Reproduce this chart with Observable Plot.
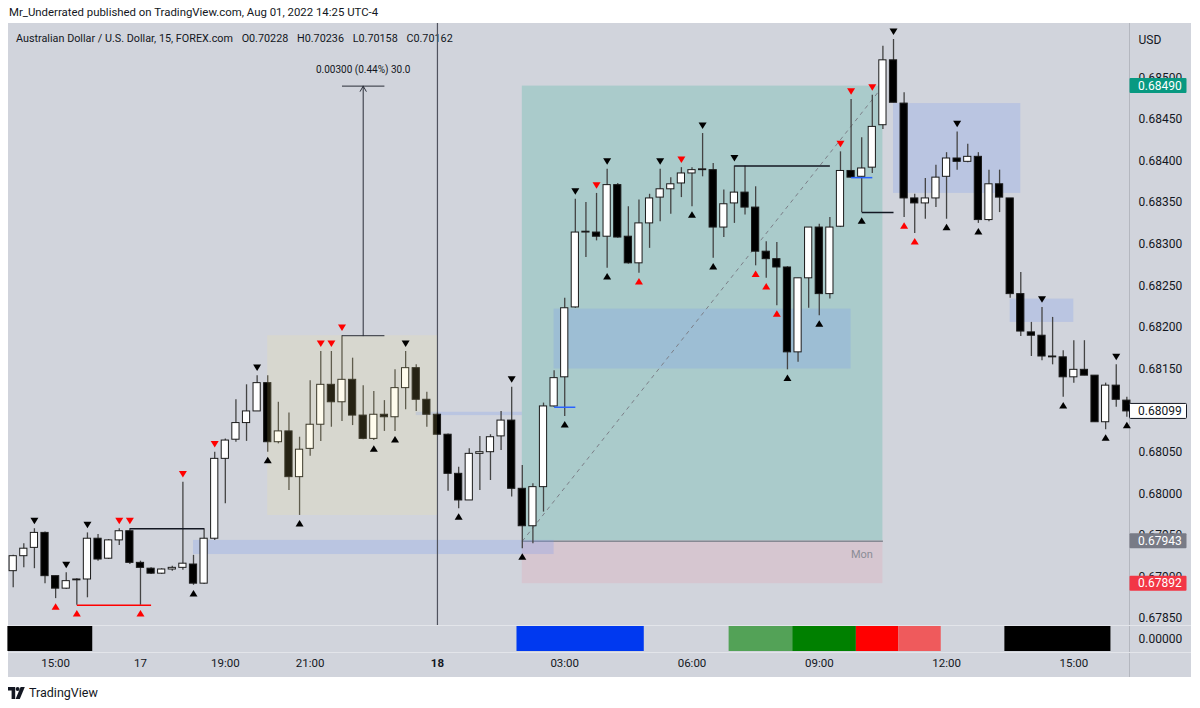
<!DOCTYPE html>
<html><head><meta charset="utf-8">
<script src="https://cdn.jsdelivr.net/npm/d3@7"></script>
<script src="https://cdn.jsdelivr.net/npm/@observablehq/plot@0.6"></script>
<style>
html,body{margin:0;padding:0}
body{background:#fff;width:1200px;height:708px;position:relative;overflow:hidden;font-family:Roboto,"Noto Sans",sans-serif;color:#131722}
.abs{position:absolute}
#bg{left:8px;top:23px;width:1183px;height:654px;background:#d1d4dc}
#pub{left:9px;top:5px;font-size:11.4px;white-space:nowrap}
#title{left:16px;top:32px;font-size:10.8px;white-space:nowrap}
#title span{margin-left:6px}
#sepR{left:1129px;top:23px;width:1px;height:654px;background:#b4b7bf}
#sepA{left:8px;top:625px;width:1183px;height:1px;background:#e3e5ea}
#sepB{left:8px;top:652px;width:1183px;height:1px;background:#e3e5ea}
#logo{left:8px;top:685px;font-size:12.5px;display:flex;align-items:center;gap:4px}
svg.plot{overflow:visible}
</style></head><body>
<div id="bg" class="abs"></div>
<div id="pub" class="abs">Mr_Underrated published on TradingView.com, Aug 01, 2022 14:25 UTC-4</div>
<div id="title" class="abs">Australian Dollar / U.S. Dollar, 15, FOREX.com <span>O0.70228</span> <span>H0.70236</span> <span>L0.70158</span> <span>C0.70162</span></div>
<div id="sepR" class="abs"></div>
<div id="sepA" class="abs"></div>
<div id="sepB" class="abs"></div>
<div id="main" class="abs" style="left:0;top:23px"></div>
<div id="lower" class="abs" style="left:0;top:625px"></div>
<div id="logo" class="abs"><svg width="17" height="12" viewBox="0 0 17 12"><path d="M0 0h7.2v12h-3.6v-8.4h-3.6z" fill="#131722"/><circle cx="9.6" cy="2" r="2" fill="#131722"/><path d="M12.6 0h4.2l-5 12h-4.2z" fill="#131722"/></svg><span>TradingView</span></div>
<script>
// ---- candle data (AUD/USD, 15 min), bar 1 = Fri 14:00 ... bar 106 = Mon 16:15
const opens = [0.67907,0.67925,0.67935,0.67953,0.67901,0.67886,0.67896,0.67897,0.67946,0.67922,
0.67944,0.67955,0.67917,0.67910,0.67904,0.67909,0.67911,0.67915,0.67892,0.67946,
0.68042,0.68065,0.68085,0.68099,0.68133,0.68062,0.68075,0.68020,0.68054,0.68083,
0.68131,0.68110,0.68137,0.68094,0.68066,0.68095,0.68092,0.68127,0.68151,0.68113,
0.68095,0.68071,0.68024,0.67992,0.68048,0.68050,0.68069,0.68088,0.68006,0.67961,
0.68008,0.68105,0.68140,0.68224,0.68314,0.68314,0.68309,0.68371,0.68309,0.68277,
0.68325,0.68356,0.68366,0.68373,0.68385,0.68389,0.68389,0.68320,0.68349,0.68362,
0.68344,0.68291,0.68282,0.68272,0.68170,0.68259,0.68320,0.68240,0.68321,0.68388,
0.68381,0.68392,0.68443,0.68521,0.68469,0.68355,0.68349,0.68355,0.68381,0.68403,
0.68399,0.68405,0.68329,0.68372,0.68355,0.68240,0.68194,0.68190,0.68165,0.68164,
0.68140,0.68149,0.68142,0.68086,0.68130,0.68112];
const highs = [0.67926,0.67940,0.67958,0.67954,0.67901,0.67905,0.67898,0.67953,0.67951,0.67945,
0.67958,0.67958,0.67919,0.67911,0.67910,0.67913,0.68014,0.67926,0.67958,0.68050,
0.68066,0.68113,0.68131,0.68142,0.68142,0.68110,0.68097,0.68068,0.68136,0.68171,
0.68171,0.68190,0.68163,0.68130,0.68123,0.68112,0.68149,0.68171,0.68155,0.68122,
0.68097,0.68072,0.68032,0.68054,0.68069,0.68071,0.68099,0.68128,0.68034,0.68012,
0.68109,0.68148,0.68235,0.68354,0.68350,0.68361,0.68390,0.68373,0.68345,0.68353,
0.68360,0.68390,0.68380,0.68392,0.68392,0.68433,0.68397,0.68365,0.68394,0.68394,
0.68369,0.68303,0.68302,0.68273,0.68259,0.68320,0.68324,0.68332,0.68411,0.68474,
0.68428,0.68479,0.68538,0.68546,0.68482,0.68360,0.68379,0.68395,0.68410,0.68435,
0.68420,0.68410,0.68389,0.68389,0.68355,0.68266,0.68206,0.68224,0.68212,0.68172,
0.68184,0.68184,0.68142,0.68133,0.68155,0.68116];
const lows = [0.67887,0.67911,0.67910,0.67892,0.67874,0.67885,0.67866,0.67875,0.67919,0.67921,
0.67938,0.67915,0.67866,0.67903,0.67903,0.67907,0.67908,0.67890,0.67891,0.67944,
0.67988,0.68062,0.68063,0.68099,0.68050,0.68060,0.68004,0.67974,0.68045,0.68063,
0.68080,0.68087,0.68082,0.68065,0.68064,0.68075,0.68075,0.68101,0.68099,0.68080,
0.68070,0.68003,0.67982,0.67992,0.68004,0.68016,0.68052,0.67996,0.67934,0.67940,
0.67978,0.68104,0.68093,0.68223,0.68284,0.68304,0.68271,0.68307,0.68276,0.68265,
0.68295,0.68327,0.68336,0.68356,0.68345,0.68381,0.68283,0.68308,0.68325,0.68335,
0.68274,0.68259,0.68226,0.68149,0.68158,0.68223,0.68214,0.68234,0.68320,0.68380,
0.68338,0.68385,0.68438,0.68470,0.68332,0.68313,0.68330,0.68344,0.68330,0.68389,
0.68398,0.68325,0.68327,0.68338,0.68235,0.68189,0.68165,0.68160,0.68155,0.68116,
0.68133,0.68142,0.68086,0.68077,0.68104,0.68092];
const closes = [0.67925,0.67934,0.67953,0.67901,0.67886,0.67895,0.67897,0.67946,0.67921,0.67944,
0.67955,0.67917,0.67911,0.67904,0.67909,0.67911,0.67916,0.67892,0.67946,0.68042,
0.68064,0.68085,0.68099,0.68133,0.68062,0.68075,0.68020,0.68053,0.68083,0.68131,
0.68110,0.68137,0.68094,0.68066,0.68095,0.68092,0.68127,0.68151,0.68113,0.68095,
0.68071,0.68024,0.67992,0.68048,0.68050,0.68068,0.68088,0.68006,0.67961,0.68008,
0.68105,0.68139,0.68223,0.68314,0.68315,0.68309,0.68371,0.68308,0.68277,0.68325,
0.68355,0.68366,0.68372,0.68385,0.68389,0.68390,0.68320,0.68348,0.68362,0.68344,
0.68291,0.68282,0.68272,0.68170,0.68259,0.68320,0.68240,0.68320,0.68388,0.68380,
0.68391,0.68441,0.68521,0.68470,0.68355,0.68349,0.68355,0.68380,0.68403,0.68399,
0.68405,0.68329,0.68372,0.68356,0.68240,0.68195,0.68190,0.68165,0.68164,0.68140,
0.68149,0.68142,0.68086,0.68130,0.68113,0.68099];

// ---- pivot markers (bar numbers)
const blackDown = [3,6,8,24,38,48,54,57,62,66,69,84,90,98,105];
const blackUp = [18,25,28,35,37,43,49,53,57,65,67,74,77,81,89,92,100,104,106];
const redDown = [11,12,17,20,30,31,32,56,64,79,80,82];
const redUp = [5,7,13,60,71,72,73,85,86];

// ---- time axis
const timeTickBars = [5,13,21,29,41,53,65,77,89,101];
const timeTickLabels = ["15:00","17","19:00","21:00","18","03:00","06:00","09:00","12:00","15:00"];
const timeTickBold = [false,false,false,false,true,false,false,false,false,false];

// ---- price axis
const priceTicks = [0.6785,0.6790,0.6795,0.6800,0.6805,0.6810,0.6815,0.6820,0.6825,0.6830,0.6835,0.6840,0.6845,0.6850];
const badgePrices = [0.68490,0.68099,0.67943,0.67892];
const badgeFills = ["#089981","#ffffff","#787b86","#f23645"];
const badgeText = ["#ffffff","#131722","#ffffff","#ffffff"];
const badgeBorder = ["none","#131722","none","none"];

// ---- long position tool
const posFrom = 49, posTo = 83;
const posEntry = 0.67943, posTarget = 0.68490, posStop = 0.67892;

// ---- range box (overlay)
const rangeFrom = 25, rangeTo = 41, rangeLow = 0.67974, rangeHigh = 0.68190;

// ---- blue zones
const zoneFrom = [18,39,52,84,95];
const zoneTo   = [52,49,80,96,101];
const zoneLow  = [0.67927,0.68094,0.68150,0.68361,0.68206];
const zoneHigh = [0.67944,0.68098,0.68222,0.68469,0.68234];

// ---- level lines
const lineFrom  = [7,12,69,81,52,80];
const lineTo    = [14,19,78,84,54,82];
const linePrice = [0.67866,0.67958,0.68394,0.68338,0.68104,0.68380];
const lineColor = ["#ff0000","#131722","#131722","#131722","#2962ff","#2962ff"];

// ---- measure tool
const measureFrom = 32, measureTo = 36, measureAt = 34;
const measureLow = 0.68190, measureHigh = 0.68490;
const measureLabel = "0.00300 (0.44%) 30.0";

// ---- day separator
const dayBreak = [41];

// ---- session pane
const sessionFrom  = [1,49,69,75,81,85,95];
const sessionTo    = [8,60,74,80,84,88,104];
const sessionColor = ["#000000","#0039f0","#53a257","#008000","#ff0000","#ef5a5c","#000000"];

// ---------- build tables
const candles = opens.map((o,k)=>({i:k+1, open:o, high:highs[k], low:lows[k], close:closes[k], up: closes[k] >= o}));
const bar = new Map(candles.map(d=>[d.i,d]));
const zones = zoneFrom.map((f,k)=>({from:f, to:zoneTo[k], lo:zoneLow[k], hi:zoneHigh[k]}));
const levels = lineFrom.map((f,k)=>({from:f, to:lineTo[k], price:linePrice[k], color:lineColor[k]}));
const sessions = sessionFrom.map((f,k)=>({from:f, to:sessionTo[k], color:sessionColor[k]}));
const ticks = timeTickBars.map((b,k)=>({i:b, label:timeTickLabels[k], bold:timeTickBold[k]}));
const badges = badgePrices.map((p,k)=>({price:p, fill:badgeFills[k], text:badgeText[k], border:badgeBorder[k]}));

const triUp = {draw(c){ c.moveTo(0,-3.4); c.lineTo(4,3.1); c.lineTo(-4,3.1); c.closePath(); }};
const triDown = {draw(c){ c.moveTo(0,3.4); c.lineTo(4,-3.1); c.lineTo(-4,-3.1); c.closePath(); }};

const xDomain = [0.557, 106.25];
const font = "Roboto, 'Noto Sans', sans-serif";

function badgeMark(index, scales, values, dims){
  const g = d3.create("svg:g");
  const x0 = dims.width - dims.marginRight + 0.5;
  for (const b of badges){
    const y = scales.y(b.price);
    g.append("rect").attr("x", x0).attr("y", y-7.5).attr("width", 57).attr("height", 15)
      .attr("rx", 1).attr("fill", b.fill).attr("stroke", b.border).attr("stroke-width", 1);
    g.append("text").attr("x", x0+8.5).attr("y", y).attr("dy","0.36em")
      .attr("text-anchor","start")
      .attr("fill", b.text).attr("font-size", 12).attr("font-family", font).text(b.price.toFixed(5));
  }
  return g.node();
}

const mainPlot = Plot.plot({
  width:1200, height:602, marginLeft:8, marginRight:71, marginTop:0, marginBottom:0,
  x:{domain:xDomain, axis:null},
  y:{domain:[0.678417,0.6856526], axis:null},
  style:{background:"transparent", fontFamily:font, fontSize:"12px", color:"#131722", overflow:"visible"},
  marks:[
    // long position
    Plot.rect([0], {x1:()=>posFrom, x2:()=>posTo, y1:()=>posEntry, y2:()=>posTarget, fill:"#aacbcb"}),
    Plot.rect([0], {x1:()=>posFrom, x2:()=>posTo, y1:()=>posStop, y2:()=>posEntry, fill:"#d6c6d0"}),
    Plot.link([0], {x1:()=>posFrom, x2:()=>posTo, y1:()=>posEntry, y2:()=>posEntry, stroke:"#868993", strokeWidth:1.5}),
    Plot.text(["Mon"], {x:()=>posTo, y:()=>posEntry, dx:-10, dy:13, textAnchor:"end", fill:"#8a8d96", fontSize:11}),
    // blue zones
    Plot.rect(zones, {x1:"from", x2:"to", y1:"lo", y2:"hi", fill:"rgb(120,150,240)", fillOpacity:0.25}),
    // diagonal
    Plot.link([0], {x1:()=>posFrom, y1:()=>posEntry, x2:()=>posTo, y2:()=>posTarget, stroke:"#7c7f88", strokeWidth:1, strokeDasharray:"4,4"}),
    // day separator
    Plot.ruleX(dayBreak, {x:d=>d, stroke:"#50535e", strokeWidth:1.2}),
    // candles
    Plot.ruleX(candles, {x:"i", y1:"low", y2:"high", stroke:"#444", strokeWidth:1.3}),
    Plot.rect(candles, {x1:d=>d.i-0.34, x2:d=>d.i+0.34, y1:"open", y2:"close", fill:d=>d.up?"#ffffff":"#000000", stroke:"#1a1a1a", strokeWidth:1}),
    // range box overlay
    Plot.rect([0], {x1:()=>rangeFrom, x2:()=>rangeTo, y1:()=>rangeLow, y2:()=>rangeHigh, fill:"rgb(255,235,135)", fillOpacity:0.15}),
    // level lines
    Plot.link(levels, {x1:"from", x2:"to", y1:"price", y2:"price", stroke:"color", strokeWidth:1.5}),
    // measure
    Plot.link([measureLow, measureHigh], {x1:()=>measureFrom, x2:()=>measureTo, y1:d=>d, y2:d=>d, stroke:"#2a2e39", strokeWidth:1}),
    Plot.arrow([0], {x1:()=>measureAt, x2:()=>measureAt, y1:()=>measureLow, y2:()=>measureHigh, stroke:"#2a2e39", strokeWidth:1, headLength:9}),
    Plot.text([measureLabel], {x:()=>measureAt, y:()=>measureHigh, dy:-16, fontSize:10, fill:"#131722"}),
    // pivot markers
    Plot.dot(blackDown.map(i=>bar.get(i)), {x:"i", y:"high", dy:-8, symbol:triDown, fill:"#000", stroke:null}),
    Plot.dot(redDown.map(i=>bar.get(i)), {x:"i", y:"high", dy:-8, symbol:triDown, fill:"#ff0000", stroke:null}),
    Plot.dot(blackUp.map(i=>bar.get(i)), {x:"i", y:"low", dy:8, symbol:triUp, fill:"#000", stroke:null}),
    Plot.dot(redUp.map(i=>bar.get(i)), {x:"i", y:"low", dy:8, symbol:triUp, fill:"#ff0000", stroke:null}),
    // price axis
    Plot.axisY({anchor:"right", ticks:priceTicks, tickSize:0, tickPadding:9, tickFormat:d=>d.toFixed(5), fill:"#131722", fontSize:12}),
    Plot.text(["USD"], {frameAnchor:"top-right", dx:9, dy:12, textAnchor:"start", fill:"#131722", fontSize:12}),
    badgeMark
  ]
});
document.getElementById("main").appendChild(mainPlot);

const lowerPlot = Plot.plot({
  width:1200, height:52, marginLeft:8, marginRight:71, marginTop:1, marginBottom:26,
  x:{domain:xDomain, axis:null},
  y:{domain:[0,1], axis:null},
  style:{background:"transparent", fontFamily:font, fontSize:"12px", color:"#131722", overflow:"visible"},
  marks:[
    Plot.rect(sessions, {x1:d=>d.from-0.5, x2:d=>d.to+0.5, y1:0, y2:1, fill:"color"}),
    Plot.axisY({anchor:"right", ticks:[0.5], tickSize:0, tickPadding:9, tickFormat:()=>"0.00000", fill:"#131722", fontSize:12}),
    Plot.text(ticks.filter(d=>!d.bold), {x:"i", text:"label", frameAnchor:"bottom", dy:15, fill:"#131722", fontSize:11.5}),
    Plot.text(ticks.filter(d=>d.bold), {x:"i", text:"label", frameAnchor:"bottom", dy:15, fill:"#131722", fontSize:11.5, fontWeight:"bold"})
  ]
});
document.getElementById("lower").appendChild(lowerPlot);
</script>
</body></html>
